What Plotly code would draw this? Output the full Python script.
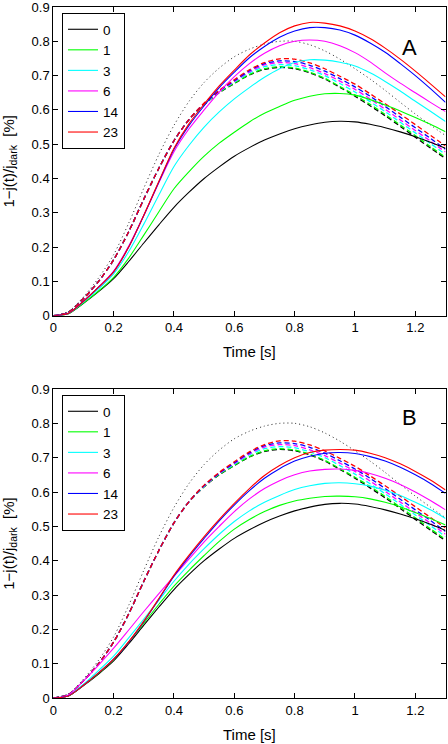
import plotly.graph_objects as go

# ---------------- data ----------------
T = [0, 0.05, 0.1, 0.15, 0.2, 0.25, 0.3, 0.35, 0.4, 0.45, 0.5, 0.55, 0.6, 0.65,
     0.7, 0.75, 0.8, 0.85, 0.9, 0.95, 1.0, 1.05, 1.1, 1.15, 1.2, 1.25, 1.3]
labels = ["0", "1", "3", "6", "14", "23"]
colors = ["#000000", "#00ff00", "#00ffff", "#ff00ff", "#0000ff", "#ff0000"]

# Panel A, solid curves
A_0 = [0, .006, .036, .07, .108, .158, .212, .265, .316, .36, .40, .434, .465, .49, .512, .53, .545, .556, .564, .567, .565, .558, .548, .536, .522, .506, .488]
A_1 = [0, .006, .037, .072, .112, .168, .235, .303, .37, .42, .465, .503, .535, .565, .59, .61, .628, .64, .647, .648, .643, .63, .614, .597, .578, .558, .536]
A_3 = [0, .007, .04, .078, .122, .187, .267, .352, .435, .497, .55, .594, .632, .665, .695, .72, .738, .746, .745, .739, .728, .708, .683, .655, .625, .596, .566]
A_6 = [0, .007, .042, .083, .13, .203, .293, .388, .478, .545, .60, .652, .697, .735, .765, .787, .80, .804, .80, .787, .767, .74, .708, .678, .65, .622, .595]
A_14 = [0, .007, .042, .083, .128, .20, .292, .39, .485, .555, .612, .665, .71, .752, .785, .812, .83, .84, .84, .833, .818, .795, .768, .735, .70, .662, .622]
A_23 = [0, .007, .042, .083, .128, .20, .293, .392, .488, .56, .617, .67, .716, .76, .795, .825, .845, .855, .853, .845, .83, .808, .78, .748, .713, .676, .638]

# Panel B, solid curves
B_0 = A_0
B_1 = [0, .006, .037, .072, .112, .163, .218, .273, .326, .372, .415, .456, .492, .52, .543, .561, .574, .582, .587, .588, .586, .58, .57, .557, .54, .523, .504]
B_3 = [0, .007, .04, .08, .122, .175, .23, .285, .34, .39, .435, .477, .514, .545, .57, .59, .607, .618, .625, .627, .624, .617, .605, .59, .57, .548, .523]
B_6 = [0, .009, .05, .096, .145, .198, .252, .304, .355, .405, .455, .50, .543, .58, .61, .633, .65, .661, .666, .667, .663, .654, .64, .622, .60, .575, .548]
B_14 = [0, .006, .037, .073, .113, .163, .222, .288, .355, .412, .465, .516, .562, .604, .64, .668, .69, .704, .713, .715, .712, .703, .69, .672, .65, .625, .596]
B_23 = [0, .006, .037, .073, .113, .164, .224, .29, .358, .416, .47, .52, .567, .61, .648, .677, .70, .715, .722, .724, .722, .713, .70, .682, .66, .635, .606]

# dashed curves (same in both panels)
D_0 = [0, .01, .05, .10, .163, .245, .34, .43, .51, .572, .615, .65, .677, .702, .718, .724, .72, .708, .69, .666, .64, .612, .583, .552, .52, .489, .458]
D_1 = [0, .01, .05, .10, .163, .245, .34, .43, .51, .572, .616, .651, .678, .703, .72, .726, .722, .71, .692, .668, .643, .616, .587, .556, .525, .493, .462]
D_3 = [0, .01, .05, .10, .163, .245, .34, .43, .51, .572, .617, .653, .681, .708, .726, .732, .729, .717, .70, .677, .652, .624, .595, .564, .533, .502, .47]
D_6 = [0, .01, .05, .10, .163, .245, .34, .43, .51, .572, .618, .654, .683, .711, .731, .738, .735, .723, .706, .684, .66, .632, .602, .571, .54, .509, .477]
D_14 = [0, .01, .05, .10, .163, .245, .34, .43, .51, .572, .619, .655, .685, .714, .735, .743, .741, .73, .713, .691, .667, .64, .61, .579, .548, .517, .485]
D_23 = [0, .01, .05, .10, .163, .245, .34, .43, .51, .572, .62, .657, .688, .717, .738, .749, .748, .737, .72, .698, .675, .647, .618, .588, .557, .526, .495]

# dotted curve (same in both panels)
DOT = [0, .012, .055, .11, .178, .27, .372, .47, .555, .625, .68, .722, .755, .777, .792, .80, .80, .79, .772, .748, .72, .69, .657, .622, .588, .556, .525]

x_ticks = [0, 0.2, 0.4, 0.6, 0.8, 1.0, 1.2]
y_ticks = [0, 0.1, 0.2, 0.3, 0.4, 0.5, 0.6, 0.7, 0.8, 0.9]

solid_A = [A_0, A_1, A_3, A_6, A_14, A_23]
solid_B = [B_0, B_1, B_3, B_6, B_14, B_23]
dashed = [D_0, D_1, D_3, D_6, D_14, D_23]

FONT = "Liberation Sans, Arial, Helvetica, sans-serif"

fig = go.Figure()

def add_panel(solid, xa, ya, leg):
    for ys, c in zip(dashed, colors):
        fig.add_trace(go.Scatter(x=T, y=ys, mode="lines", xaxis=xa, yaxis=ya,
                                 line=dict(color=c, width=1.3, dash="5px,3px", shape="spline", smoothing=0.8),
                                 showlegend=False, hoverinfo="skip"))
    fig.add_trace(go.Scatter(x=T, y=DOT, mode="lines", xaxis=xa, yaxis=ya,
                             line=dict(color="#222222", width=1, dash="1px,3px", shape="spline", smoothing=0.8),
                             showlegend=False, hoverinfo="skip"))
    for ys, c, name in zip(solid, colors, labels):
        fig.add_trace(go.Scatter(x=T, y=ys, mode="lines", xaxis=xa, yaxis=ya, name=name,
                                 legend=leg,
                                 line=dict(color=c, width=1.1, shape="spline", smoothing=0.8)))

add_panel(solid_A, "x", "y", "legend")
add_panel(solid_B, "x2", "y2", "legend2")

W, H = 448, 744
x_dom = [53.3 / W, 445.5 / W]
yA = [1 - 315.7 / H, 1 - 7 / H]
yB = [1 - 698 / H, 1 - 389 / H]

ax_common = dict(showline=True, linecolor="#000000", linewidth=1, mirror="ticks",
                 ticks="inside", ticklen=5, tickcolor="#000000", showgrid=False, zeroline=False,
                 automargin=False, ticklabeloverflow="allow",
                 tickfont=dict(family=FONT, size=13, color="#000000"))

ytitle = dict(text="1\u2212j(t)/j<sub>dark</sub>  [%]", font=dict(family=FONT, size=15, color="#000000"), standoff=16)
xtitle = dict(text="Time [s]", font=dict(family=FONT, size=15, color="#000000"), standoff=12)

leg_common = dict(xanchor="left", yanchor="top", bgcolor="white",
                  bordercolor="#000000", borderwidth=1, font=dict(family=FONT, size=13.5, color="#000000"),
                  itemwidth=30, tracegroupgap=0)

fig.update_layout(
    width=W, height=H,
    margin=dict(l=0, r=0, t=0, b=0, autoexpand=False),
    paper_bgcolor="white", plot_bgcolor="white",
    xaxis=dict(domain=x_dom, anchor="y", range=[0, 1.3], tickvals=x_ticks, title=xtitle, **ax_common),
    yaxis=dict(domain=yA, anchor="x", range=[0, 0.9], tickvals=y_ticks, title=ytitle, **ax_common),
    xaxis2=dict(domain=x_dom, anchor="y2", range=[0, 1.3], tickvals=x_ticks, title=xtitle, **ax_common),
    yaxis2=dict(domain=yB, anchor="x2", range=[0, 0.9], tickvals=y_ticks, title=ytitle, **ax_common),
    legend=dict(x=62 / W, y=1 - 13 / H, **leg_common),
    legend2=dict(x=62 / W, y=1 - 395 / H, **leg_common),
    showlegend=True,
    annotations=[
        dict(text="A", x=419 / W, y=1 - 33 / H, xref="paper", yref="paper", showarrow=False,
             font=dict(family=FONT, size=22, color="#000000")),
        dict(text="B", x=419 / W, y=1 - 418 / H, xref="paper", yref="paper", showarrow=False,
             font=dict(family=FONT, size=22, color="#000000")),
    ],
)

fig.write_html("out.html", config={"displayModeBar": False},
               post_script="document.body.style.margin='0';document.body.style.overflow='hidden';")
